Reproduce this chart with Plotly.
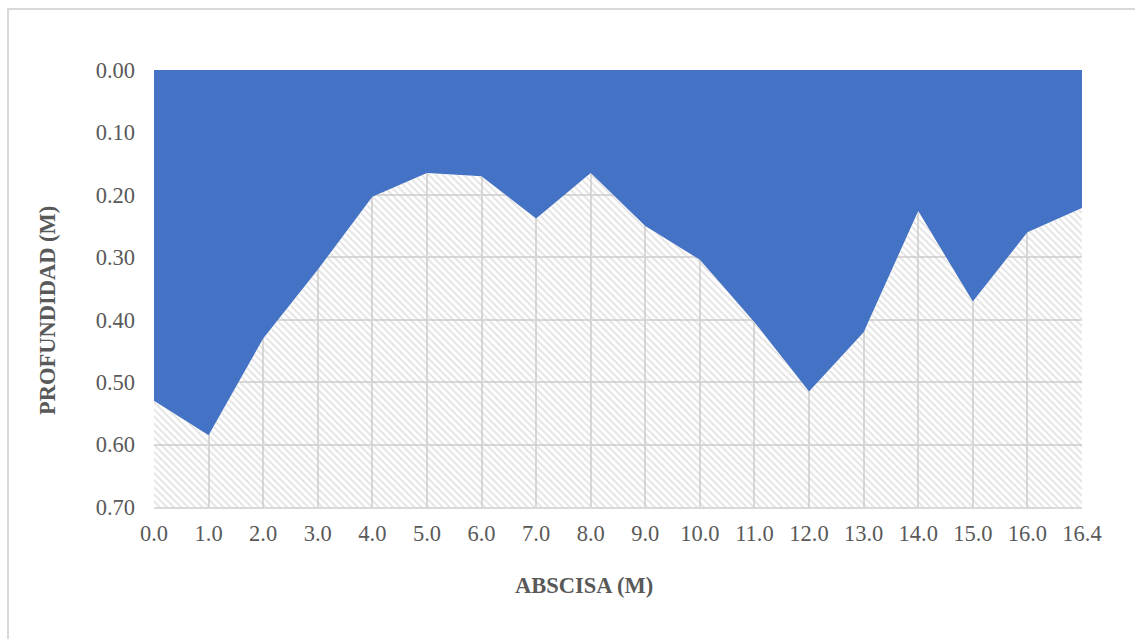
import plotly.graph_objects as go

# Perfil transversal: abscisa (m) vs profundidad (m)
abscisas = ["0.0", "1.0", "2.0", "3.0", "4.0", "5.0", "6.0", "7.0", "8.0",
            "9.0", "10.0", "11.0", "12.0", "13.0", "14.0", "15.0", "16.0", "16.4"]
profundidad = [0.53, 0.585, 0.43, 0.32, 0.203, 0.165, 0.17, 0.238, 0.165,
               0.25, 0.304, 0.404, 0.515, 0.42, 0.226, 0.371, 0.26, 0.221]
fondo = [0.70] * len(abscisas)
y_ticks = [0.0, 0.1, 0.2, 0.3, 0.4, 0.5, 0.6, 0.7]

W, H = 1135, 639
L, R, T, B = 154, 53, 70, 132
pw, ph = W - L - R, H - T - B

GRIS = "#595959"
FUENTE = "Liberation Serif, Times New Roman, serif"
TAM = 22.5

fig = go.Figure()

# Agua: desde la superficie hasta el lecho
fig.add_trace(go.Scatter(
    x=abscisas, y=profundidad, mode="lines",
    line=dict(width=0, color="#4472C4"),
    fill="tozeroy", fillcolor="#4472C4",
    hoverinfo="skip", showlegend=False,
))

# Lecho: rayado diagonal bajo el perfil
fig.add_trace(go.Scatter(
    x=abscisas, y=fondo, mode="lines",
    line=dict(width=0, color="rgba(0,0,0,0)"),
    fill="tonexty",
    fillpattern=dict(shape="\\", fgcolor="#c9c9c9", bgcolor="rgba(0,0,0,0)",
                     size=5, solidity=0.4),
    hoverinfo="skip", showlegend=False,
))

def px_x(px):
    return (px - L) / pw

def px_y(py):
    return (H - B - py) / ph

fig.update_layout(
    width=W, height=H,
    margin=dict(l=L, r=R, t=T, b=B),
    paper_bgcolor="white", plot_bgcolor="white",
    font=dict(family=FUENTE, color=GRIS, size=TAM),
    xaxis=dict(
        type="category", categoryorder="array", categoryarray=abscisas,
        range=[0, len(abscisas) - 1],
        showgrid=True, gridcolor="#d9d9d9", gridwidth=1.5,
        zeroline=False, showline=True, linecolor="#d9d9d9", linewidth=1.5,
        ticks="", ticklabelstandoff=5,
        tickfont=dict(family=FUENTE, color=GRIS, size=TAM),
    ),
    yaxis=dict(
        range=[0.70, 0.0], tickvals=y_ticks,
        ticktext=[f"{v:.2f}" for v in y_ticks],
        showgrid=True, gridcolor="#d9d9d9", gridwidth=1.5,
        zeroline=False, showline=False, ticks="", ticklabelstandoff=18,
        tickfont=dict(family=FUENTE, color=GRIS, size=TAM),
    ),
    annotations=[
        dict(text="<b>ABSCISA (M)</b>", xref="paper", yref="paper",
             x=px_x(584), y=px_y(585), xanchor="center", yanchor="middle",
             showarrow=False, font=dict(family=FUENTE, color=GRIS, size=TAM)),
        dict(text="<b>PROFUNDIDAD (M)</b>", xref="paper", yref="paper",
             x=px_x(47), y=px_y(311), xanchor="center", yanchor="middle",
             textangle=-90, showarrow=False,
             font=dict(family=FUENTE, color=GRIS, size=TAM)),
    ],
    shapes=[
        dict(type="rect", xref="paper", yref="paper",
             x0=px_x(8), x1=px_x(1140), y0=px_y(650), y1=px_y(9),
             line=dict(color="#d9d9d9", width=2), fillcolor="rgba(0,0,0,0)",
             layer="below"),
    ],
)

fig.write_html("out.html")
